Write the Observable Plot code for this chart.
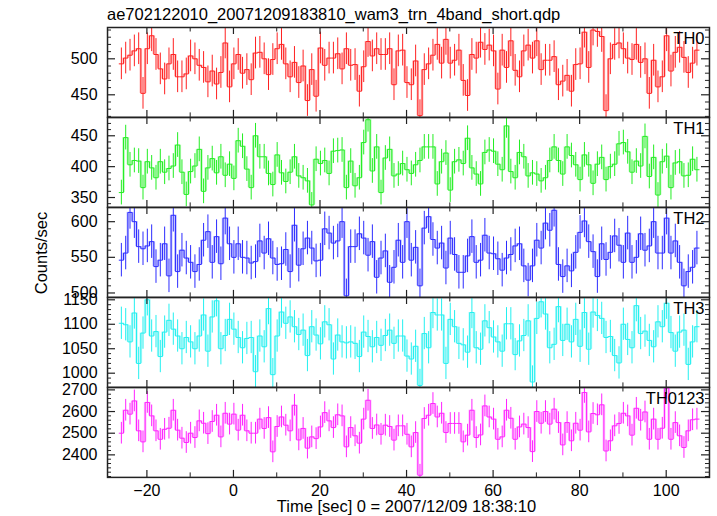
<!DOCTYPE html>
<html><head><meta charset="utf-8">
<script src="https://cdn.jsdelivr.net/npm/d3@7"></script>
<script src="https://cdn.jsdelivr.net/npm/@observablehq/plot@0.6"></script>
<style>
body{margin:0;background:#fff;}
#chart{position:relative;width:717px;height:516px;overflow:hidden;font-family:"Liberation Sans",Arial,sans-serif;}
#chart svg{position:absolute;left:0;}
</style></head><body>
<div id="chart"></div>
<script>
// ---- data (1 s bins) ----
const binStart = -26.4;   // left edge of first bin [sec]
const binWidth = 1;
const panelNames = ["TH0", "TH1", "TH2", "TH3", "TH0123"];
const panelColors = ["#ff2020", "#22ee22", "#2b2bff", "#22f0f0", "#ff22ff"];
const errBars = [22, 20, 23.5, 33, 50];

const th0 = [493,501,505,511,514,452,514,532,506,486,472,493,506,475,475,479,504,500,491,488,468,483,465,481,522,461,493,506,480,485,471,508,509,500,478,499,514,520,493,475,495,467,490,442,485,448,515,491,501,501,507,486,514,491,492,455,489,524,504,514,506,506,514,464,511,
512,467,464,497,421,485,493,505,520,494,527,494,498,512,470,449,506,501,523,513,519,511,458,512,488,525,484,475,511,519,501,525,485,498,498,503,464,469,477,455,492,493,537,488,540,538,531,428,500,520,522,514,501,499,520,495,500,452,498,461,475,532,483,509,516,502,481,494,512];
const th1 = [358,447,403,410,409,366,408,398,382,408,391,397,401,435,391,355,392,401,428,360,398,413,390,416,386,404,381,442,433,396,366,450,416,416,389,371,419,390,376,391,416,385,382,377,338,412,405,410,389,425,426,427,366,409,369,382,439,476,393,432,358,414,428,385,388,
405,395,389,403,410,432,432,432,372,408,422,362,408,411,405,446,398,388,372,423,427,425,404,395,466,392,382,423,416,385,390,388,377,382,410,432,410,388,432,418,403,379,419,403,373,404,415,379,400,404,437,439,424,391,409,401,449,384,415,354,408,417,366,406,408,385,386,412,395];
const th2 = [546,556,613,600,565,562,566,572,537,546,569,524,609,530,560,549,543,530,540,574,586,543,579,541,605,569,550,569,550,549,542,544,573,556,576,549,540,541,561,530,595,539,562,577,563,545,546,590,584,570,573,600,496,565,565,583,577,553,572,522,549,559,515,536,574,
543,600,546,564,510,591,607,575,563,570,535,577,554,529,529,552,579,543,546,581,556,555,548,532,549,554,566,569,538,518,538,574,563,598,588,616,540,523,538,531,557,585,601,572,558,523,569,547,557,580,567,543,584,543,550,583,560,566,600,556,556,605,556,573,543,510,530,536,563];
const th3 = [1102,1099,1064,1123,1020,1082,1150,1076,1085,1034,1084,1108,1090,1076,1050,1073,1064,1050,1076,1119,1045,1115,1148,1050,1077,1110,1090,1073,1052,1071,1073,1003,1076,1054,1132,997,1076,1125,1102,1115,1095,1079,1088,1036,1095,1078,1060,1105,1099,1029,1078,1064,1062,1064,1061,1034,1084,1075,1054,1073,1057,1077,1088,1061,1076,
1076,1035,1029,1055,975,1081,1052,1124,1119,1119,1020,1110,1095,1061,1058,1043,1124,1052,1049,1107,1093,1074,1064,1045,1101,1101,1038,1066,1077,1107,982,1112,1146,1121,1052,1059,1136,1067,1100,1064,1110,1055,1124,1049,1125,1118,1112,1073,1075,1036,1021,1100,1069,1052,1138,1081,1086,1067,1054,1105,1095,1143,1083,1045,1084,1088,1018,1064,1095];
const th0123 = [2500,2606,2588,2649,2511,2460,2642,2580,2511,2472,2518,2523,2606,2514,2477,2457,2500,2480,2557,2546,2498,2554,2583,2483,2592,2542,2588,2514,2583,2511,2500,2500,2565,2522,2572,2414,2531,2575,2537,2511,2629,2469,2522,2431,2483,2475,2529,2595,2557,2526,2585,2580,2437,2526,2488,2454,2565,2652,2522,2538,2495,2537,2531,2468,2534,
2534,2495,2437,2503,2306,2568,2583,2637,2575,2592,2503,2545,2545,2545,2460,2491,2606,2480,2492,2626,2575,2565,2472,2483,2606,2569,2472,2529,2542,2526,2415,2600,2546,2600,2542,2611,2549,2446,2549,2465,2546,2514,2688,2506,2591,2585,2631,2418,2465,2534,2545,2592,2580,2491,2615,2560,2598,2472,2565,2472,2523,2708,2472,2549,2488,2434,2511,2562,2565];

// ---- axes ----
const xDomain = [-29.1, 110];
const xMajor = [-20, 0, 20, 40, 60, 80, 100];
const xMinor = [-10, 10, 30, 50, 70, 90];
const yDomains = [[418.6, 543.5], [334, 479.6], [493.8, 619.9], [971, 1154.7], [2296, 2711]];
const yMajor = [[450, 500], [350, 400, 450], [500, 550, 600], [1000, 1050, 1100, 1150], [2400, 2500, 2600, 2700]];
const yMinorStep = [10, 10, 10, 10, 20];

const titleText = "ae702122010_20071209183810_wam3_trn_4band_short.qdp";
const yLabel = "Counts/sec";
const xLabel = "Time [sec] 0 = 2007/12/09 18:38:10";

const series = [th0, th1, th2, th3, th0123];

// ---- layout ----
const W = 717, ML = 107, MR = 8;
const innerW = W - ML - MR;
const top0 = 27, panelH = 89.9, pad = 14;
const axisColor = "#222";
const fmt = d => (d < 0 ? "\u2212" + Math.abs(d) : String(d));

const chart = document.getElementById("chart");

series.forEach((vals, i) => {
  const color = panelColors[i];
  const err = errBars[i];
  const data = vals.map((v, k) => ({t: binStart + binWidth * (k + 0.5), v}));
  const steps = vals.flatMap((v, k) => [
    {x: binStart + binWidth * k, y: v},
    {x: binStart + binWidth * (k + 1), y: v}
  ]);
  const trans = vals.slice(1).map((v, k) => ({x: binStart + binWidth * (k + 1), y1: vals[k], y2: v}));
  const [ya, yb] = yDomains[i];
  const st = yMinorStep[i];
  const yMin = d3.range(Math.ceil(ya / st) * st, yb, st).filter(v => !yMajor[i].includes(v));
  const isLast = i === series.length - 1;
  const mb = isLast ? 44 : pad;

  const marks = [
    Plot.ruleX(trans, {x: "x", y1: "y1", y2: "y2", stroke: color, strokeOpacity: 0.3, strokeWidth: 2.6, clip: true}),
    Plot.ruleX(data, {x: "t", y1: d => d.v - err, y2: d => d.v + err, stroke: color, strokeWidth: 1, clip: true}),
    Plot.line(steps, {x: "x", y: "y", stroke: color, strokeWidth: 1, clip: true}),
    // y ticks (inside, left & right)
    Plot.tickY(yMajor[i], {y: d => d, insetRight: innerW - 8, stroke: axisColor, strokeWidth: 1.2}),
    Plot.tickY(yMajor[i], {y: d => d, insetLeft: innerW - 8, stroke: axisColor, strokeWidth: 1.2}),
    Plot.tickY(yMin, {y: d => d, insetRight: innerW - 4, stroke: axisColor, strokeWidth: 1}),
    Plot.tickY(yMin, {y: d => d, insetLeft: innerW - 4, stroke: axisColor, strokeWidth: 1}),
    // x ticks (inside, top & bottom)
    Plot.tickX(xMajor, {x: d => d, insetBottom: panelH - 7, stroke: axisColor, strokeWidth: 1.2}),
    Plot.tickX(xMajor, {x: d => d, insetTop: panelH - 7, stroke: axisColor, strokeWidth: 1.2}),
    Plot.tickX(xMinor, {x: d => d, insetBottom: panelH - 4.5, stroke: axisColor, strokeWidth: 1}),
    Plot.tickX(xMinor, {x: d => d, insetTop: panelH - 4.5, stroke: axisColor, strokeWidth: 1}),
    Plot.frame({stroke: axisColor, strokeWidth: 1.5}),
    Plot.text(yMajor[i], {y: d => d, frameAnchor: "left", dx: -10, textAnchor: "end", text: d => fmt(d), fontSize: 16, fill: "#000"}),
    Plot.text([panelNames[i]], {frameAnchor: "top-right", dx: -5, dy: 5, lineAnchor: "top", textAnchor: "end", text: d => d, fontSize: 16.5, fill: "#000"})
  ];
  if (isLast) {
    marks.push(Plot.text(xMajor, {x: d => d, frameAnchor: "bottom", lineAnchor: "top", dy: 7, text: d => fmt(d), fontSize: 16, fill: "#000"}));
  }
  const svg = Plot.plot({
    width: W,
    height: panelH + pad + mb,
    marginLeft: ML, marginRight: MR, marginTop: pad, marginBottom: mb,
    x: {domain: xDomain, axis: null},
    y: {domain: yDomains[i], axis: null},
    style: {background: "transparent", overflow: "visible", fontFamily: "'Liberation Sans', Arial, sans-serif", fontSize: "16px"},
    marks
  });
  svg.style.top = (top0 + i * panelH - pad) + "px";
  chart.appendChild(svg);
});

// ---- titles ----
const over = d3.select(chart).append("svg")
  .attr("width", W).attr("height", 516)
  .style("top", "0px")
  .attr("font-family", "'Liberation Sans', Arial, sans-serif")
  .attr("font-size", 16.5);
over.append("text").attr("x", 107).attr("y", 20).text(titleText);
over.append("text").attr("transform", "translate(47,253) rotate(-90)").attr("text-anchor", "middle").text(yLabel);
over.append("text").attr("x", 406.5).attr("y", 512).attr("text-anchor", "middle").text(xLabel);
</script>
</body></html>
